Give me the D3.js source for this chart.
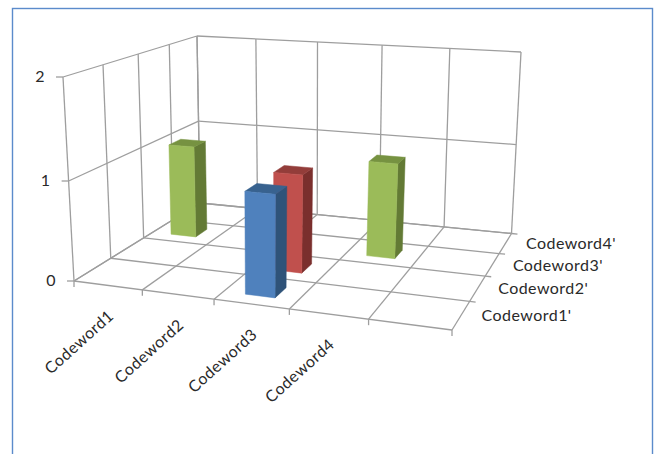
<!DOCTYPE html>
<html>
<head>
<meta charset="utf-8">
<script src="https://cdnjs.cloudflare.com/ajax/libs/d3/7.8.5/d3.min.js"></script>
<style>
html,body{margin:0;padding:0;background:#fff}
svg{display:block}
text{font-family:Lato,"Open Sans",sans-serif;font-size:16px;letter-spacing:.45px;fill:#2a2a2a}
</style>
</head>
<body>
<svg id="chart" width="656" height="454"></svg>
<script>
// Chart content
const categories = ["Codeword1", "Codeword2", "Codeword3", "Codeword4"];
const seriesNames = ["Codeword1'", "Codeword2'", "Codeword3'", "Codeword4'"];
const series1 = [null, null, 1, null];
const series2 = [null, null, 1, null];
const series3 = [1, null, null, 1];
const series4 = [null, null, null, null];
const seriesValues = [series1, series2, series3, series4];
const valueTicks = [0, 1, 2];
const faceColors = [
  {front: "#4f81bd", side: "#2f5379", top: "#38628f"},
  {front: "#c0504d", side: "#7a2f2d", top: "#933d3a"},
  {front: "#9bbb59", side: "#637a35", top: "#769241"},
  {front: "#8064a2", side: "#524069", top: "#614c7c"}
];

const gridColor = "#9e9e9e";
const svg = d3.select("#chart");

// Camera: corners of the floor and ceiling planes on screen, in the order
// front-left, front-right, back-right, back-left.
const floorQuad = [[74, 281], [452, 330], [511.5, 233.5], [200, 203]];
const ceilQuad = [[63, 77], [469.5, 105], [521, 52], [197, 36]];
// Vertical foreshortening between floor and ceiling.
const heightFalloff = 1.04;

// Unit square to quadrilateral projective map.
function squareToQuad(q) {
  const [[x0, y0], [x1, y1], [x2, y2], [x3, y3]] = q;
  const dx1 = x1 - x2, dx2 = x3 - x2, sx = x0 - x1 + x2 - x3;
  const dy1 = y1 - y2, dy2 = y3 - y2, sy = y0 - y1 + y2 - y3;
  const det = dx1 * dy2 - dx2 * dy1;
  const g = (sx * dy2 - dx2 * sy) / det;
  const h = (dx1 * sy - sx * dy1) / det;
  const a = x1 - x0 + g * x1, b = x3 - x0 + h * x3;
  const d = y1 - y0 + g * y1, e = y3 - y0 + h * y3;
  return (u, v) => {
    const w = g * u + h * v + 1;
    return [(a * u + b * v + x0) / w, (d * u + e * v + y0) / w];
  };
}
const floorMap = squareToQuad(floorQuad);
const ceilMap = squareToQuad(ceilQuad);

// Data scales onto the unit box. The category axis keeps one empty slot at its end.
const xScale = d3.scaleBand().domain([...categories, ""]).range([0, 1]).paddingInner(0).paddingOuter(0);
const yScale = d3.scaleBand().domain(seriesNames).range([0, 1]);
const zScale = d3.scaleLinear().domain([0, 2]).range([0, 1]);

function project(u, v, z) {
  const f = floorMap(u, v), c = ceilMap(u, v), s = zScale(z);
  const t = s / (s + heightFalloff * (1 - s));
  return [f[0] + (c[0] - f[0]) * t, f[1] + (c[1] - f[1]) * t];
}

const line = d3.line();
const xEdges = [...xScale.domain().map(d => xScale(d)), 1];
const yEdges = [...yScale.domain().map(d => yScale(d)), 1];

function seg(g, a, b) {
  g.append("path").attr("d", line([a, b])).attr("fill", "none")
    .attr("stroke", gridColor).attr("stroke-width", 1.3);
}
const grid = svg.append("g");

// Outer frame
svg.append("rect").attr("x", 12.5).attr("y", 8.5).attr("width", 640).attr("height", 470)
  .attr("fill", "none").attr("stroke", "#5b8bcb").attr("stroke-width", 1.4);

// Back wall and side wall gridlines
xEdges.forEach(u => seg(grid, project(u, 1, 0), project(u, 1, 2)));
yEdges.forEach(v => seg(grid, project(0, v, 0), project(0, v, 2)));
valueTicks.forEach(z => {
  seg(grid, project(0, 0, z), project(0, 1, z));
  seg(grid, project(0, 1, z), project(1, 1, z));
});

// Floor gridlines with their tick marks
xEdges.forEach(u => {
  const a = project(u, 0, 0);
  seg(grid, a, project(u, 1, 0));
  seg(grid, a, [a[0], a[1] + 6]);
});
yEdges.forEach(v => {
  const a = project(0, v, 0), b = project(1, v, 0);
  const len = Math.hypot(b[0] - a[0], b[1] - a[1]);
  seg(grid, a, b);
  if (v > 0) seg(grid, b, [b[0] + (b[0] - a[0]) / len * 6, b[1] + (b[1] - a[1]) / len * 6]);
});

// Value axis ticks and labels
valueTicks.forEach(z => {
  const a = project(0, 0, z);
  seg(grid, a, [a[0] - 7, a[1]]);
  svg.append("text").attr("x", a[0] - 18).attr("y", a[1] + 1)
    .attr("text-anchor", "end").attr("dominant-baseline", "middle").text(z);
});

// Category labels
categories.forEach(c => {
  const p = project(xScale(c) + xScale.bandwidth() / 2, 0, 0);
  svg.append("text").attr("text-anchor", "end")
    .attr("transform", `translate(${p[0] + 7},${p[1] + 32}) rotate(-42)`)
    .text(c);
});

// Depth labels
seriesNames.forEach(s => {
  const p = project(1, yScale(s) + yScale.bandwidth() / 2, 0);
  svg.append("text").attr("x", p[0] + 20.5).attr("y", p[1] + 2)
    .attr("dominant-baseline", "middle").text(s);
});

// Bars, painted from the back row forward
const barFill = 0.4;
const barsData = [];
seriesValues.forEach((vals, si) => vals.forEach((val, ci) => {
  if (val != null) barsData.push({si, ci, val});
}));
barsData.sort((a, b) => b.si - a.si || a.ci - b.ci);

const bars = svg.append("g");
barsData.forEach(d => {
  const bwX = xScale.bandwidth(), bwY = yScale.bandwidth();
  const cu = xScale(categories[d.ci]) + bwX / 2;
  const cv = yScale(seriesNames[d.si]) + bwY / 2;
  const u0 = cu - bwX * barFill / 2, u1 = cu + bwX * barFill / 2;
  const v0 = cv - bwY * barFill / 2, v1 = cv + bwY * barFill / 2;
  const c = faceColors[d.si];
  const poly = (pts, fill) => bars.append("path")
    .attr("d", line(pts) + "Z").attr("fill", fill).attr("stroke", fill).attr("stroke-width", 0.5);
  poly([project(u1, v0, 0), project(u1, v1, 0), project(u1, v1, d.val), project(u1, v0, d.val)], c.side);
  poly([project(u0, v0, d.val), project(u1, v0, d.val), project(u1, v1, d.val), project(u0, v1, d.val)], c.top);
  poly([project(u0, v0, 0), project(u1, v0, 0), project(u1, v0, d.val), project(u0, v0, d.val)], c.front);
});
</script>
</body>
</html>
